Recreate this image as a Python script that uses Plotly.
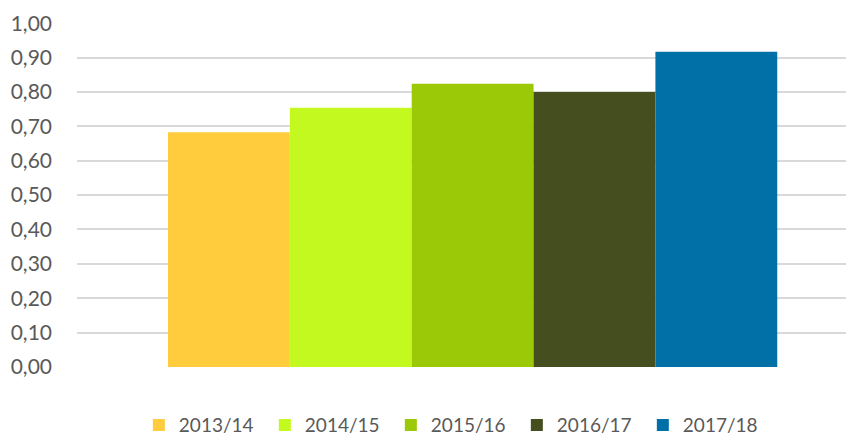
import plotly.graph_objects as go

seasons = ["2013/14", "2014/15", "2015/16", "2016/17", "2017/18"]
values = [0.683, 0.754, 0.824, 0.800, 0.917]
colors = ["#FFCC3D", "#C4F920", "#9BC907", "#444E1F", "#0070A7"]
y_ticks = [0.0, 0.1, 0.2, 0.3, 0.4, 0.5, 0.6, 0.7, 0.8, 0.9, 1.0]

fig = go.Figure()
for s, v, c in zip(seasons, values, colors):
    fig.add_trace(go.Bar(x=["c"], y=[v], name=s, marker=dict(color=c, line=dict(width=0))))

fig.update_layout(
    width=846, height=426,
    margin=dict(l=69, r=0, t=15, b=66.5, autoexpand=False),
    barmode="group", bargap=0.23, bargroupgap=0,
    paper_bgcolor="white", plot_bgcolor="white",
    separators=",.",
    font=dict(family="Lato", size=19, color="#595959"),
    showlegend=True,
    legend=dict(orientation="h", xref="container", yref="container",
                x=0.527, xanchor="center", y=0.021, yanchor="middle",
                font=dict(size=19, color="#595959"),
                entrywidth=81, entrywidthmode="pixels", itemsizing="constant",
                traceorder="normal"),
    xaxis=dict(type="category", range=[-0.5, 0.482], showticklabels=False,
               showgrid=False, zeroline=False, showline=False, fixedrange=True),
    yaxis=dict(range=[0, 1.0005], tickvals=y_ticks, tickformat=".2f",
               showgrid=True, gridcolor="#D9D9D9", gridwidth=1.5,
               zeroline=False, showline=False, ticks="", ticklabelstandoff=24,
               tickfont=dict(size=21, color="#595959")),
)

fig.write_html("out.html")
